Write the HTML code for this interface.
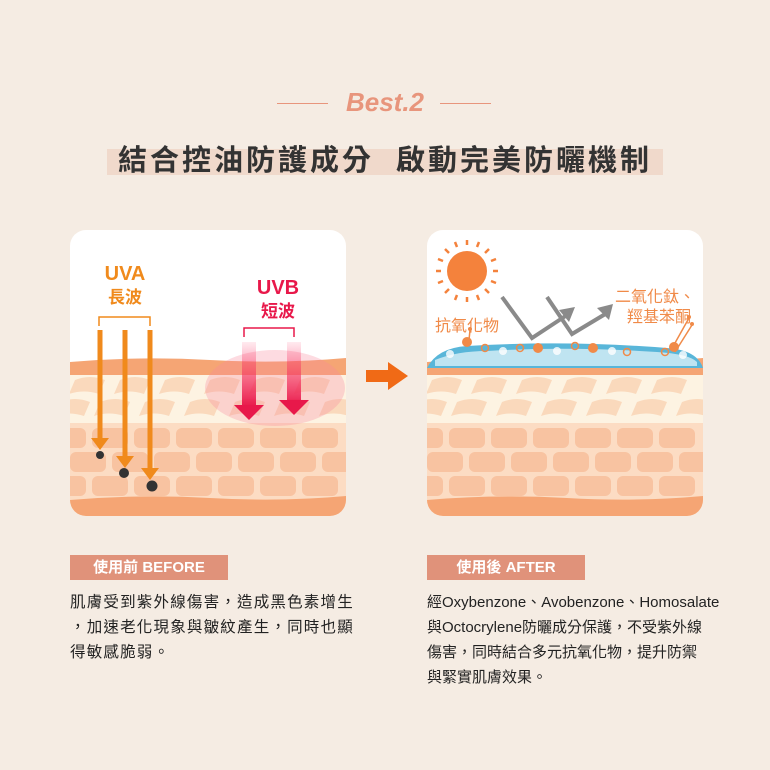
<!DOCTYPE html>
<html><head><meta charset="utf-8"><style>
body{margin:0;width:770px;height:770px;background:#f5ece3;font-family:"Liberation Sans","Noto Sans CJK TC",sans-serif;position:relative;overflow:hidden}
.abs{position:absolute}
.card{position:absolute;top:230px;width:276px;height:286px;background:#fff;border-radius:16px;overflow:hidden}
.tag{position:absolute;top:555px;height:25px;background:#e0927a;color:#fff;font-size:15px;font-weight:bold;line-height:25px;text-align:center}
.txt{position:absolute;top:590px;font-size:15.5px;color:#222;line-height:25px;letter-spacing:1.2px;white-space:nowrap}
</style></head><body>
<div class="abs" style="left:277px;top:103px;width:51px;height:1px;background:#e8957c"></div>
<div class="abs" style="left:440px;top:103px;width:51px;height:1px;background:#e8957c"></div>
<div class="abs" style="left:325px;top:87px;width:120px;text-align:center;font-size:26px;font-weight:bold;font-style:italic;color:#e8957c">Best.2</div>
<div class="abs" style="left:107px;top:149px;width:556px;height:26px;background:#f0d9cb"></div>
<div class="abs" style="left:107px;top:137px;width:556px;text-align:center;font-size:29px;font-weight:bold;color:#333;letter-spacing:3px">結合控油防護成分&nbsp;&nbsp;啟動完美防曬機制</div>

<svg width="0" height="0" style="position:absolute"><defs>
<g id="skin">
<rect x="0" y="135" width="276" height="155" fill="#fdf3e2"/>
<path d="M0 132 Q70 126 140 130 T276 128 L276 145 L0 145Z" fill="#f5a574"/>
<g fill="#fad9bc">
<path d="M5 150 q15-6 30 0 l-6 14 q-15-5-30 0z"/><path d="M50 150 q15-6 30 0 l-6 14 q-15-5-30 0z"/><path d="M95 150 q15-6 30 0 l-6 14 q-15-5-30 0z"/><path d="M140 150 q15-6 30 0 l-6 14 q-15-5-30 0z"/><path d="M185 150 q15-6 30 0 l-6 14 q-15-5-30 0z"/><path d="M230 150 q15-6 30 0 l-6 14 q-15-5-30 0z"/>
<path d="M-10 172 q15-6 30 0 l-6 14 q-15-5-30 0z"/><path d="M30 172 q15-6 30 0 l-6 14 q-15-5-30 0z"/><path d="M75 172 q15-6 30 0 l-6 14 q-15-5-30 0z"/><path d="M120 172 q15-6 30 0 l-6 14 q-15-5-30 0z"/><path d="M165 172 q15-6 30 0 l-6 14 q-15-5-30 0z"/><path d="M210 172 q15-6 30 0 l-6 14 q-15-5-30 0z"/><path d="M255 172 q15-6 30 0 l-6 14 q-15-5-30 0z"/>
</g>
<rect x="0" y="193" width="276" height="80" fill="#fcdcc3"/>
<g fill="#f8c3a1">
<rect x="-20" y="198" width="36" height="20" rx="6"/><rect x="22" y="198" width="36" height="20" rx="6"/><rect x="64" y="198" width="36" height="20" rx="6"/><rect x="106" y="198" width="36" height="20" rx="6"/><rect x="148" y="198" width="36" height="20" rx="6"/><rect x="190" y="198" width="36" height="20" rx="6"/><rect x="232" y="198" width="36" height="20" rx="6"/>
<rect x="0" y="222" width="36" height="20" rx="6"/><rect x="42" y="222" width="36" height="20" rx="6"/><rect x="84" y="222" width="36" height="20" rx="6"/><rect x="126" y="222" width="36" height="20" rx="6"/><rect x="168" y="222" width="36" height="20" rx="6"/><rect x="210" y="222" width="36" height="20" rx="6"/><rect x="252" y="222" width="36" height="20" rx="6"/>
<rect x="-20" y="246" width="36" height="20" rx="6"/><rect x="22" y="246" width="36" height="20" rx="6"/><rect x="64" y="246" width="36" height="20" rx="6"/><rect x="106" y="246" width="36" height="20" rx="6"/><rect x="148" y="246" width="36" height="20" rx="6"/><rect x="190" y="246" width="36" height="20" rx="6"/><rect x="232" y="246" width="36" height="20" rx="6"/>
</g>
<path d="M0 270 Q70 264 140 268 T276 266 L276 290 L0 290Z" fill="#f5a574"/>
</g>
</defs></svg>

<div class="card" style="left:70px">
<svg width="276" height="286">
<use href="#skin"/>
<ellipse cx="205" cy="158" rx="70" ry="38" fill="#f7889a" opacity="0.3"/>
<text x="55" y="50" font-size="20" font-weight="bold" fill="#f08a1c" text-anchor="middle" font-family="Liberation Sans">UVA</text>
<text x="55" y="73" font-size="17" font-weight="bold" fill="#f08a1c" text-anchor="middle" font-family="Noto Sans CJK TC">長波</text>
<path d="M29 96 V87 H80 V96" stroke="#f08a1c" stroke-width="1.5" fill="none"/>
<g stroke="#f08a1c" stroke-width="5">
<line x1="30" y1="100" x2="30" y2="210"/><line x1="55" y1="100" x2="55" y2="228"/><line x1="80" y1="100" x2="80" y2="240"/></g>
<g fill="#f08a1c"><path d="M21 208h18l-9 12z"/><path d="M46 226h18l-9 12z"/><path d="M71 238h18l-9 12z"/></g>
<g fill="#333"><circle cx="30" cy="225" r="4"/><circle cx="54" cy="243" r="5"/><circle cx="82" cy="256" r="5.5"/></g>
<text x="208" y="64" font-size="20" font-weight="bold" fill="#e8184a" text-anchor="middle" font-family="Liberation Sans">UVB</text>
<text x="208" y="87" font-size="17" font-weight="bold" fill="#e8184a" text-anchor="middle" font-family="Noto Sans CJK TC">短波</text>
<path d="M174 107 V98 H224 V107" stroke="#e8184a" stroke-width="1.5" fill="none"/>
<defs><linearGradient id="rg" x1="0" y1="0" x2="0" y2="1"><stop offset="0" stop-color="#f36" stop-opacity="0.1"/><stop offset="1" stop-color="#e8184a"/></linearGradient></defs>
<rect x="172" y="112" width="14" height="65" fill="url(#rg)"/><rect x="217" y="112" width="14" height="65" fill="url(#rg)"/>
<path d="M164 175h30l-15 15z" fill="#e8184a"/><path d="M209 170h30l-15 15z" fill="#e8184a"/>
</svg></div>

<svg class="abs" style="left:364px;top:362px" width="48" height="28"><path d="M2 8h22v-8l20 14l-20 14v-8h-22z" fill="#f06a16"/></svg>

<div class="card" style="left:427px">
<svg width="276" height="286">
<use href="#skin"/>
<path d="M0 138 Q10 118 40 116 Q140 110 240 118 Q270 120 276 138Z" fill="#59b6d9"/>
<path d="M8 130 Q30 121 60 121 Q140 116 230 122 Q262 124 270 132 L270 136 L8 136Z" fill="#bfe4f1"/>
<g fill="#f08a48"><circle cx="40" cy="112" r="5"/><circle cx="111" cy="118" r="5"/><circle cx="166" cy="118" r="5"/><circle cx="247" cy="117" r="5"/></g>
<g fill="none" stroke="#f08a48" stroke-width="1.5"><circle cx="58" cy="118" r="3.5"/><circle cx="93" cy="118" r="3.5"/><circle cx="148" cy="116" r="3.5"/><circle cx="200" cy="122" r="3.5"/><circle cx="238" cy="122" r="3.5"/></g>
<g fill="#fff" opacity="0.8"><circle cx="23" cy="124" r="4"/><circle cx="76" cy="121" r="4"/><circle cx="130" cy="121" r="4"/><circle cx="185" cy="121" r="4"/><circle cx="256" cy="125" r="4"/></g>
<g stroke="#f08a48" stroke-width="1.5"><line x1="43" y1="100" x2="42" y2="110"/><line x1="248" y1="113" x2="262" y2="88"/><line x1="248" y1="122" x2="265" y2="95"/></g>
<g fill="#f08a48"><circle cx="43" cy="99" r="2"/><circle cx="262" cy="87" r="2"/><circle cx="265" cy="94" r="2"/></g>
<text x="8" y="101" font-size="16" fill="#f08a48" font-family="Noto Sans CJK TC">抗氧化物</text>
<text x="268" y="72" font-size="16" fill="#f08a48" text-anchor="end" font-family="Noto Sans CJK TC">二氧化鈦、</text>
<text x="264" y="92" font-size="16" fill="#f08a48" text-anchor="end" font-family="Noto Sans CJK TC">羥基苯酮</text>
<circle cx="40" cy="41" r="20" fill="#f4823c"/>
<g stroke="#f4823c" stroke-width="2.5" transform="translate(-2,-2)">
<line x1="42" y1="12" x2="42" y2="17"/><line x1="42" y1="69" x2="42" y2="74"/><line x1="11" y1="43" x2="16" y2="43"/><line x1="68" y1="43" x2="73" y2="43"/>
<line x1="20" y1="21" x2="24" y2="25"/><line x1="60" y1="61" x2="64" y2="65"/><line x1="64" y1="21" x2="60" y2="25"/><line x1="24" y1="61" x2="20" y2="65"/>
<line x1="30" y1="14" x2="32" y2="19"/><line x1="54" y1="14" x2="52" y2="19"/><line x1="30" y1="72" x2="32" y2="67"/><line x1="54" y1="72" x2="52" y2="67"/>
<line x1="13" y1="31" x2="18" y2="33"/><line x1="13" y1="55" x2="18" y2="53"/><line x1="71" y1="31" x2="66" y2="33"/><line x1="71" y1="55" x2="66" y2="53"/></g>
<g stroke="#8a8a8a" stroke-width="4" fill="none"><path d="M75 67 L105 108 L140 85"/><path d="M120 67 L145 104 L180 83"/></g>
<path d="M132 80 L148 77 L142 92z" fill="#8a8a8a"/><path d="M170 78 L186 74 L182 90z" fill="#8a8a8a"/>
</svg></div>

<div class="tag" style="left:70px;width:158px">使用前 BEFORE</div>
<div class="tag" style="left:427px;width:158px">使用後 AFTER</div>
<div class="txt" style="left:70px">肌膚受到紫外線傷害，造成黑色素增生<br>，加速老化現象與皺紋產生，同時也顯<br>得敏感脆弱。</div>
<div class="txt" style="left:427px;font-size:15px;letter-spacing:0">經Oxybenzone、Avobenzone、Homosalate<br>與Octocrylene防曬成分保護，不受紫外線<br>傷害，同時結合多元抗氧化物，提升防禦<br>與緊實肌膚效果。</div>
</body></html>
